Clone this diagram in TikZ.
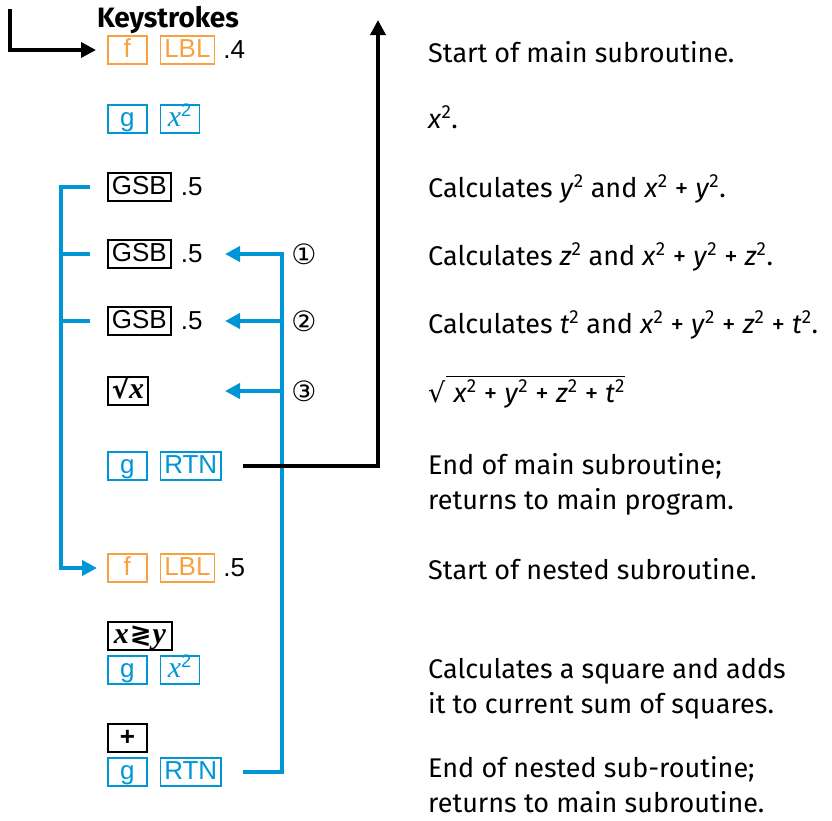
\documentclass[tikz,border=0pt]{standalone}
\usepackage{amsmath}
\usepackage{fontspec}
\setmainfont{Fira Sans}
\newfontfamily\keyfont{Liberation Sans}
\newfontfamily\serifkey{Liberation Serif}
\newfontfamily\circfont{DejaVu Sans}
\usetikzlibrary{arrows.meta,positioning}
\definecolor{hpblue}{HTML}{0096D6}
\definecolor{hporange}{HTML}{F7A23E}
\newcommand{\sqv}[1]{\textit{#1}\textsuperscript{2}}
\newcommand{\keyx}{{\serifkey\itshape\fontsize{30}{30}\selectfont x}}

\begin{document}
\begin{tikzpicture}[x=1pt,y=-1pt,
  key/.style={draw,line width=1.5pt,anchor=west,inner xsep=4pt,inner ysep=2pt,minimum width=39pt,
    text height=19pt,text depth=5pt,font=\keyfont\fontsize{26}{26}\selectfont},
  orkey/.style={key,draw=hporange,text=hporange},
  blkey/.style={key,draw=hpblue,text=hpblue},
  bkkey/.style={key,draw=black,line width=1.8pt},
  num/.style={anchor=west,inner sep=0pt,font=\keyfont\fontsize{26}{26}\selectfont},
  desc/.style={anchor=base west,inner sep=0pt,align=left,font=\fontsize{27}{34.5}\selectfont},
  circ/.style={inner sep=0pt,font=\circfont\fontsize{28}{28}\selectfont},
  bline/.style={draw=hpblue,line width=4pt},
  kline/.style={draw=black,line width=3.5pt},
  tip/.style={-{Triangle[length=15pt,width=15pt]}}]
  \useasboundingbox (0,0) rectangle (832,820);
  % keystroke column
  \node[font=\bfseries\fontsize{28}{28}\selectfont,anchor=base,inner sep=0pt] (head) at (168,27) {Keystrokes};
  \node[orkey] (f1) at (107,50) {f}; \node[orkey,right=12pt of f1] (lbl1) {LBL}; \node[num,right=8pt of lbl1] (n1) {.4};
  \node[blkey] (g1) at (107,119) {g}; \node[blkey,right=12pt of g1] (xsq1) {\keyx\textsuperscript{2}};
  \node[bkkey] (gsb1) at (107,187) {GSB}; \node[num,right=9pt of gsb1] (n2) {.5};
  \node[bkkey] (gsb2) at (107,254) {GSB}; \node[num,right=9pt of gsb2] (n3) {.5};
  \node[bkkey] (gsb3) at (107,321) {GSB}; \node[num,right=9pt of gsb3] (n4) {.5};
  \node[bkkey] (sqx) at (107,391) {{\circfont\bfseries √}{\bfseries\keyx}};
  \node[blkey] (g2) at (107,466) {g}; \node[blkey,right=12pt of g2] (rtn1) {RTN};
  \node[orkey] (f2) at (107,568) {f}; \node[orkey,right=12pt of f2] (lbl2) {LBL}; \node[num,right=8pt of lbl2] (n5) {.5};
  \node[bkkey,minimum width=64pt] (xy) at (107,636) {{\bfseries\keyx}\kern1pt{\circfont\bfseries ≷}\kern1pt{\serifkey\bfseries\itshape\fontsize{30}{30}\selectfont y}};
  \node[blkey] (g3) at (107,670) {g}; \node[blkey,right=12pt of g3] (xsq2) {\keyx\textsuperscript{2}};
  \node[bkkey] (plus) at (107,738) {\bfseries +};
  \node[blkey] (g4) at (107,772) {g}; \node[blkey,right=12pt of g4] (rtn2) {RTN};
  % comments column
  \node[desc] (d1) at (428,62) {Start of main subroutine.};
  \node[desc] (d2) at (428,128) {\sqv{x}.};
  \node[desc] (d3) at (428,197) {Calculates \sqv{y} and \sqv{x} + \sqv{y}.};
  \node[desc] (d4) at (428,265) {Calculates \sqv{z} and \sqv{x} + \sqv{y} + \sqv{z}.};
  \node[desc] (d5) at (428,333) {Calculates \sqv{t} and \sqv{x} + \sqv{y} + \sqv{z} + \sqv{t}.};
  \node[desc] (d6) at (428,402) {{\circfont √}\kern1pt$\overline{\mbox{\ \sqv{x} + \sqv{y} + \sqv{z} + \sqv{t}}}$};
  \node[desc] (d7) at (428,509) {End of main subroutine;\\returns to main program.};
  \node[desc] (d8) at (428,579) {Start of nested subroutine.};
  \node[desc] (d9) at (428,713) {Calculates a square and adds\\it to current sum of squares.};
  \node[desc] (d10) at (428,812) {End of nested sub-routine;\\returns to main subroutine.};
  % returns
  \node[circ] (c1) at (304,254) {①};
  \node[circ] (c2) at (304,321) {②};
  \node[circ] (c3) at (304,391) {③};
  \coordinate (tl) at (10,9); \coordinate (lb) at (61,0); \coordinate (rb) at (282,0);
  \coordinate (ax) at (225,0); \coordinate (up) at (378,20);
  \draw[kline,tip] (tl) |- ([xshift=-11pt]f1.west);
  \draw[bline,tip] ([xshift=-17pt]gsb1.west) -- (lb |- gsb1) -- (lb |- f2) -- ([xshift=-10pt]f2.west);
  \foreach \k in {gsb2,gsb3} \draw[bline] ([xshift=-17pt]\k.west) -- (lb |- \k);
  \draw[bline,tip] ([xshift=21pt]rtn2.east) -| (rb |- gsb2) -- (ax |- gsb2);
  \foreach \k in {gsb3,sqx} \draw[bline,tip] (rb |- \k) -- (ax |- \k);
  \draw[kline,tip] ([xshift=21pt]rtn1.east) -| (up);
\end{tikzpicture}
\end{document}
